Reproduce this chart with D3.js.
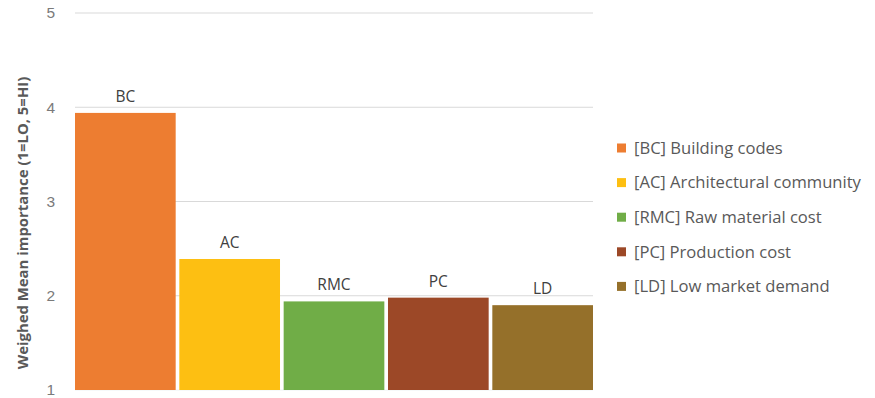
<!DOCTYPE html>
<html>
<head>
<meta charset="utf-8">
<script src="https://cdn.jsdelivr.net/npm/d3@7"></script>
<style>
  html, body { margin: 0; padding: 0; background: #fff; }
  svg { display: block; font-family: "Open Sans", "Noto Sans", sans-serif; }
</style>
</head>
<body>
<svg id="chart" width="875" height="398"></svg>
<script>
// Barriers to adoption: weighted mean importance (1 = low, 5 = high)
const codes = ["BC", "AC", "RMC", "PC", "LD"];
const names = ["Building codes", "Architectural community", "Raw material cost", "Production cost", "Low market demand"];
const values = [3.94, 2.39, 1.94, 1.98, 1.90];
const colors = ["#ED7D31", "#FDBF12", "#70AD47", "#9C4827", "#95702A"];
const yTicks = [1, 2, 3, 4, 5];
const yTitle = "Weighed Mean importance (1=LO, 5=HI)";

const svg = d3.select("#chart");
const plot = { left: 75, right: 593, top: 13, bottom: 390 };

const x = d3.scaleBand().domain(codes).range([plot.left, plot.right]).paddingInner(0.035).paddingOuter(0.0);
const y = d3.scaleLinear().domain([1, 5]).range([plot.bottom, plot.top]);

// gridlines
svg.append("g")
  .selectAll("line")
  .data(yTicks)
  .join("line")
  .attr("x1", plot.left)
  .attr("x2", plot.right)
  .attr("y1", d => y(d))
  .attr("y2", d => y(d))
  .attr("stroke", d => d === 1 ? "#eef3f6" : "#d9d9d9")
  .attr("stroke-width", 1);

// y axis labels
const yAxis = d3.axisLeft(y).tickValues(yTicks).tickSize(0).tickPadding(0).tickFormat(d3.format("d"));
const yg = svg.append("g").attr("transform", `translate(${plot.left - 20},0)`).call(yAxis);
yg.select(".domain").remove();
yg.selectAll("text").attr("fill", "#7a7a7a").attr("font-size", 15.5);

// y axis title
svg.append("text")
  .attr("transform", "translate(28,223) rotate(-90)")
  .attr("text-anchor", "middle")
  .attr("font-size", 14.9)
  .attr("font-weight", "bold")
  .attr("fill", "#595959")
  .text(yTitle);

// bars
svg.append("g")
  .selectAll("rect")
  .data(codes)
  .join("rect")
  .attr("x", d => x(d))
  .attr("width", x.bandwidth())
  .attr("y", (d, i) => y(values[i]))
  .attr("height", (d, i) => y(1) - y(values[i]))
  .attr("fill", (d, i) => colors[i]);

// bar labels
svg.append("g")
  .selectAll("text")
  .data(codes)
  .join("text")
  .attr("x", d => x(d) + x.bandwidth() / 2)
  .attr("y", (d, i) => y(values[i]) - 11)
  .attr("text-anchor", "middle")
  .attr("font-size", 15.5)
  .attr("fill", "#404040")
  .text(d => d);

// legend
const legend = svg.append("g").attr("transform", "translate(617,148)");
const rows = legend.selectAll("g")
  .data(codes)
  .join("g")
  .attr("transform", (d, i) => `translate(0,${i * 34.6})`);
rows.append("rect")
  .attr("x", 0).attr("y", -4.5)
  .attr("width", 9).attr("height", 9)
  .attr("fill", (d, i) => colors[i]);
rows.append("text")
  .attr("x", 17)
  .attr("y", 0)
  .attr("dy", "0.35em")
  .attr("font-size", 16.6)
  .attr("fill", "#595959")
  .text((d, i) => `[${d}] ${names[i]}`);
</script>
</body>
</html>
